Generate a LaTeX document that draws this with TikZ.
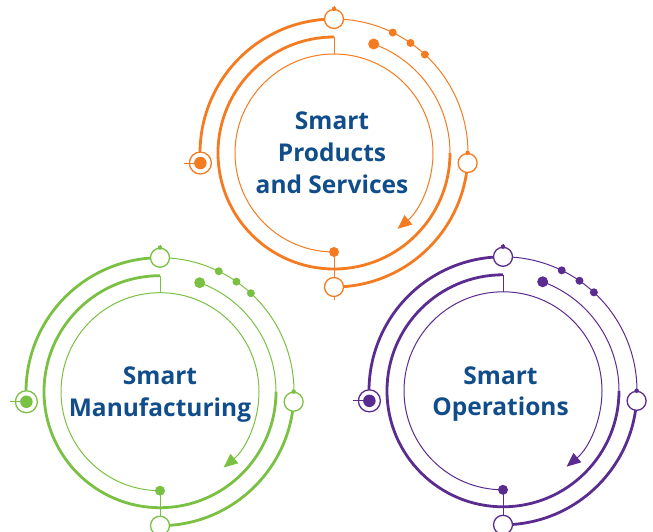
\documentclass[tikz,border=0pt]{standalone}
\usepackage{fontspec}
\setmainfont{Open Sans}
\usetikzlibrary{arrows.meta,calc}
\definecolor{oc}{HTML}{F47B20}
\definecolor{gc}{HTML}{7AC143}
\definecolor{pc}{HTML}{5B2C8F}
\definecolor{tc}{HTML}{124D8B}
\tikzset{
  thickarc/.style={line width=2.8pt},
  thinarc/.style={line width=1pt},
  ring/.style={circle, fill=white, line width=1.3pt, minimum size=19pt, inner sep=0pt},
  bigring/.style={circle, fill=white, line width=1.3pt, minimum size=22pt, inner sep=0pt},
  bigdot/.style={circle, inner sep=0pt, minimum size=11pt},
  smalldot/.style={circle, inner sep=0pt, minimum size=8pt},
  tinydot/.style={circle, inner sep=0pt, minimum size=4.5pt},
  lbl/.style={text=tc, font=\bfseries\fontsize{24.5}{30}\selectfont, anchor=base, inner sep=0pt}
}
\newcommand\motif[2]{%
  % named points
  \coordinate (#1T) at (90:134);
  \coordinate (#1B) at (270:134);
  \coordinate (#1R) at (-4.3:134);
  \coordinate (#1L) at (184.3:134);
  \coordinate (#1MT) at (90:116);
  \coordinate (#1IT) at (90:99);
  \coordinate (#1IB) at (270:99);
  % middle ring
  \draw[thickarc,#2] (#1MT) arc[start angle=90,end angle=360,radius=116];
  \draw[thinarc,#2] (0:116) arc[start angle=0,end angle=70,radius=116];
  % inner ring with arrow
  \draw[thinarc,#2,-{Triangle[length=14pt,width=12pt]}] (#1IB) arc[start angle=270,end angle=-50,radius=99];
  % connectors top and bottom
  \draw[thinarc,#2] (#1MT) -- (#1IT);
  \draw[thinarc,#2] (#1IB) -- ($(#1B)+(0,-13)$);
  \draw[thinarc,#2] (#1T) -- ($(#1T)+(0,13)$);
  % outer ring
  \draw[thickarc,#2] (#1T) arc[start angle=90,end angle=184.3,radius=134];
  \draw[thickarc,#2] (#1B) arc[start angle=270,end angle=355.7,radius=134];
  \draw[thinarc,#2] (#1T) arc[start angle=90,end angle=-4.3,radius=134];
  % markers
  \node[ring,draw=#2] (#1top) at (#1T) {};
  \node[ring,draw=#2] (#1bot) at (#1B) {};
  \node[ring,draw=#2] (#1right) at (#1R) {};
  \node[bigring,draw=#2] (#1left) at (#1L) {};
  \draw[thinarc,#2] (#1left.center) -- ($(#1L)+(-16,0)$);
  \node[bigdot,fill=#2,minimum size=12.5pt] (#1leftdot) at (#1L) {};
  \node[tinydot,fill=#2] (#1toptip) at (#1top.north) {};
  \node[tinydot,fill=#2] (#1righttip) at (#1right.north) {};
  \node[bigdot,fill=#2] (#1mdot) at (70:116) {};
  \node[bigdot,fill=#2,minimum size=10pt] (#1bdot) at (#1IB) {};
  \node[smalldot,fill=#2] (#1d1) at (64:134) {};
  \node[smalldot,fill=#2] (#1d2) at (55.2:134) {};
  \node[smalldot,fill=#2] (#1d3) at (47.3:134) {};
}
\begin{document}
\begin{tikzpicture}[x=1pt,y=1pt]
\useasboundingbox (0,0) rectangle (653,532);
\begin{scope}[shift={(334,379)}]
  \motif{o}{oc}
\end{scope}
\begin{scope}[shift={(160,140.3)}]
  \motif{g}{gc}
\end{scope}
\begin{scope}[shift={(503,141.2)}]
  \motif{p}{pc}
\end{scope}
\node[lbl] (o1) at (332,402.7) {Smart};
\node[lbl] (o2) at (332,370.3) {Products};
\node[lbl] (o3) at (332,338.7) {and Services};
\node[lbl] (g1) at (160,147) {Smart};
\node[lbl] (g2) at (160,115.3) {Manufacturing};
\node[lbl] (p1) at (500.5,147) {Smart};
\node[lbl] (p2) at (500.5,116.3) {Operations};
\end{tikzpicture}
\end{document}
